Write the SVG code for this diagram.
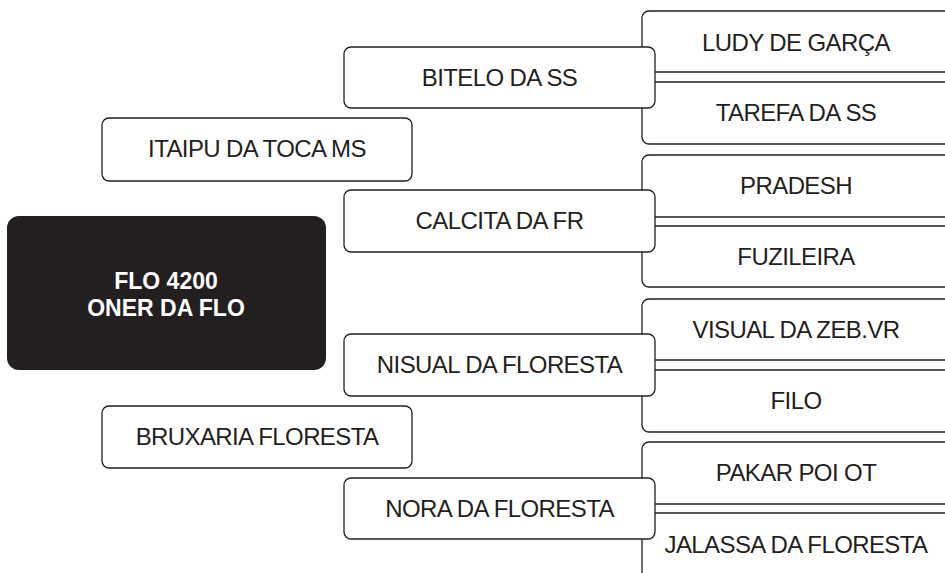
<svg xmlns="http://www.w3.org/2000/svg" width="945" height="573" viewBox="0 0 945 573">
<style>
.b{fill:#fff;stroke:#231f20;stroke-width:1.3}
.t{font-family:"Liberation Sans",Arial,sans-serif;font-size:24px;letter-spacing:-0.6px;fill:#231f20;text-anchor:middle}
.c{font-family:"Liberation Sans",Arial,sans-serif;font-size:23px;font-weight:bold;fill:#fff;text-anchor:middle}
</style>
<rect width="945" height="573" fill="#fff"/>
<g id="ludy"><rect class="b" x="642" y="11" width="310" height="61" rx="7"/><text class="t" x="796" y="51">LUDY DE GARÇA</text></g>
<g id="tarefa"><rect class="b" x="642" y="82" width="310" height="62" rx="7"/><text class="t" x="796" y="121">TAREFA DA SS</text></g>
<g id="pradesh"><rect class="b" x="642" y="155" width="310" height="62" rx="7"/><text class="t" x="796" y="194">PRADESH</text></g>
<g id="fuzileira"><rect class="b" x="642" y="226" width="310" height="61" rx="7"/><text class="t" x="796" y="265">FUZILEIRA</text></g>
<g id="visual"><rect class="b" x="642" y="299" width="310" height="61" rx="7"/><text class="t" x="796" y="338">VISUAL DA ZEB.VR</text></g>
<g id="filo"><rect class="b" x="642" y="370" width="310" height="62" rx="7"/><text class="t" x="796" y="409">FILO</text></g>
<g id="pakar"><rect class="b" x="642" y="442" width="310" height="62" rx="7"/><text class="t" x="796" y="481">PAKAR POI OT</text></g>
<g id="jalassa"><rect class="b" x="642" y="513" width="310" height="70" rx="7"/><text class="t" x="796" y="553">JALASSA DA FLORESTA</text></g>
<g id="bitelo"><rect class="b" x="344" y="47" width="311" height="61" rx="7"/><text class="t" x="499.5" y="86">BITELO DA SS</text></g>
<g id="calcita"><rect class="b" x="344" y="190" width="311" height="62" rx="7"/><text class="t" x="499.5" y="229">CALCITA DA FR</text></g>
<g id="nisual"><rect class="b" x="344" y="334" width="311" height="62" rx="7"/><text class="t" x="499.5" y="373">NISUAL DA FLORESTA</text></g>
<g id="nora"><rect class="b" x="344" y="478" width="311" height="61" rx="7"/><text class="t" x="499.5" y="517">NORA DA FLORESTA</text></g>
<g id="itaipu"><rect class="b" x="102" y="118" width="310" height="63" rx="7"/><text class="t" x="257" y="157">ITAIPU DA TOCA MS</text></g>
<g id="bruxaria"><rect class="b" x="102" y="406" width="310" height="62" rx="7"/><text class="t" x="257" y="445">BRUXARIA FLORESTA</text></g>
<g id="flo"><rect x="7" y="216" width="319" height="154" rx="12" fill="#231f20"/><text class="c" x="166" y="289">FLO 4200</text><text class="c" x="166" y="316">ONER DA FLO</text></g>
</svg>
